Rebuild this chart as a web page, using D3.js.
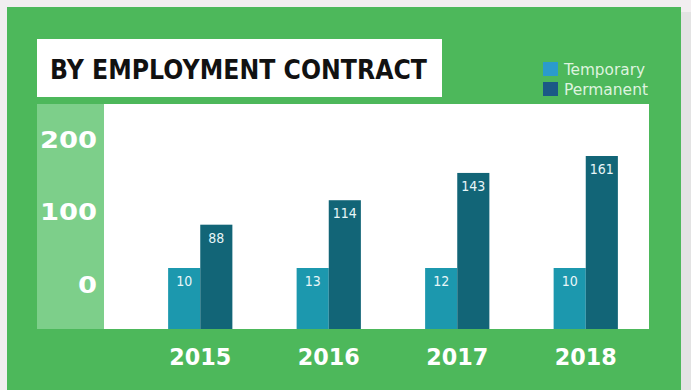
<!DOCTYPE html>
<html>
<head>
<meta charset="utf-8">
<script src="https://cdn.jsdelivr.net/npm/d3@7"></script>
<style>
  html, body { margin: 0; padding: 0; background: #efebed; }
  svg { display: block; }
</style>
</head>
<body>
<svg id="chart" width="691" height="390"></svg>
<script>
// Headcount by employment contract, per year
const years = ["2015", "2016", "2017", "2018"];
const seriesNames = ["Temporary", "Permanent"];
const temporary = [10, 13, 12, 10];
const permanent = [88, 114, 143, 161];
const yTicks = [0, 100, 200];

const title = "BY EMPLOYMENT CONTRACT";

// Palette
const green = "#4db85b";
const greenLight = "#7dcf8a";
const barColors = ["#1c98ae", "#126577"];
const swatchColors = ["#2b9bcc", "#1b5986"];

const W = 691, H = 390;
const plot = { left: 104, right: 649, top: 104, bottom: 329 };
const minBarH = 61; // room for the value label inside short bars

const svg = d3.select("#chart");

// Page frame
svg.append("rect").attr("x", 0).attr("y", 0).attr("width", W).attr("height", H).attr("fill", "#f2eef0");
svg.append("rect").attr("x", 681).attr("y", 12).attr("width", 10).attr("height", H).attr("fill", "#e3e3e3");
svg.append("rect").attr("x", 7).attr("y", 7).attr("width", 674).attr("height", H).attr("fill", green);

// Title box
svg.append("rect").attr("x", 37).attr("y", 39).attr("width", 405).attr("height", 58).attr("fill", "#ffffff");
svg.append("text")
  .attr("x", 50).attr("y", 79)
  .attr("font-family", "'DejaVu Sans', sans-serif")
  .attr("font-weight", "bold")
  .attr("font-size", 26)
  .attr("fill", "#111111")
  .attr("textLength", 377)
  .attr("lengthAdjust", "spacingAndGlyphs")
  .text(title);

// Legend
const legend = svg.append("g").attr("transform", "translate(543,62)");
seriesNames.forEach((name, i) => {
  const g = legend.append("g").attr("transform", `translate(0,${i * 20})`);
  g.append("rect").attr("width", 15).attr("height", 14).attr("fill", swatchColors[i]);
  g.append("text")
    .attr("x", 21).attr("y", 13)
    .attr("font-family", "'DejaVu Sans Condensed', 'Liberation Sans Narrow', sans-serif")
    .attr("font-size", 15)
    .attr("fill", "#def3df")
    .attr("textLength", i === 0 ? 81 : 84)
    .attr("lengthAdjust", "spacingAndGlyphs")
    .text(name);
});

// Y-axis strip and plot area
svg.append("rect").attr("x", 37).attr("y", plot.top).attr("width", plot.left - 37)
  .attr("height", plot.bottom - plot.top).attr("fill", greenLight);
svg.append("rect").attr("x", plot.left).attr("y", plot.top).attr("width", plot.right - plot.left)
  .attr("height", plot.bottom - plot.top).attr("fill", "#ffffff");

// Scales
const x0 = d3.scaleBand().domain(years).range([136, 650]).paddingInner(0.5).paddingOuter(0.25);
const x1 = d3.scaleBand().domain(seriesNames).range([0, x0.bandwidth()]);
const yBar = d3.scaleLinear().domain([0, 200]).range([plot.bottom - 21.5, plot.bottom - 209.7]);
const yAxisScale = d3.scaleLinear().domain([0, 200]).range([285, 140]);

const rows = years.map((yr, i) => ({ year: yr, values: [temporary[i], permanent[i]] }));

// Bars
const groups = svg.append("g").selectAll("g").data(rows).join("g")
  .attr("transform", d => `translate(${x0(d.year)},0)`);

const bars = groups.selectAll("g.bar")
  .data(d => d.values.map((v, k) => ({ series: seriesNames[k], k, v })))
  .join("g").attr("class", "bar");

const barTop = d => Math.min(yBar(d.v), plot.bottom - minBarH);

bars.append("rect")
  .attr("x", d => x1(d.series))
  .attr("y", barTop)
  .attr("width", x1.bandwidth())
  .attr("height", d => plot.bottom - barTop(d))
  .attr("fill", d => barColors[d.k]);

bars.append("text")
  .attr("x", d => x1(d.series) + x1.bandwidth() / 2)
  .attr("y", d => barTop(d) + 18)
  .attr("text-anchor", "middle")
  .attr("font-family", "'DejaVu Sans Condensed', 'Liberation Sans Narrow', sans-serif")
  .attr("font-size", 14)
  .attr("fill", "#e8f6f8")
  .text(d => d.v);

// Y axis labels
const yAxis = svg.append("g").attr("transform", "translate(97,0)")
  .call(d3.axisLeft(yAxisScale).tickValues(yTicks).tickSize(0).tickPadding(0));
yAxis.select(".domain").remove();
yAxis.selectAll("text")
  .attr("font-family", "'DejaVu Sans', sans-serif")
  .attr("font-weight", "bold")
  .attr("font-size", 23)
  .attr("fill", "#ffffff")
  .attr("textLength", function () { return this.textContent.length * 19; })
  .attr("lengthAdjust", "spacingAndGlyphs");

// X axis labels
const xAxis = svg.append("g").attr("transform", `translate(0,${plot.bottom})`)
  .call(d3.axisBottom(x0).tickSize(0).tickPadding(19.5));
xAxis.select(".domain").remove();
xAxis.selectAll("text")
  .attr("font-family", "'DejaVu Sans', sans-serif")
  .attr("font-weight", "bold")
  .attr("font-size", 23)
  .attr("fill", "#ffffff")
  .attr("textLength", 62)
  .attr("lengthAdjust", "spacingAndGlyphs");
</script>
</body>
</html>
